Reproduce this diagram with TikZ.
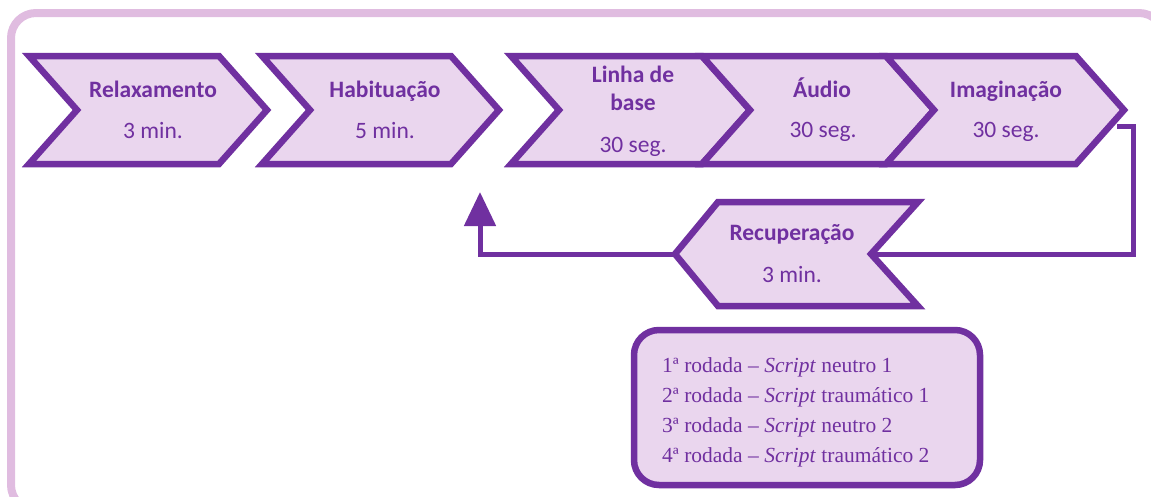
\documentclass[tikz,border=0pt]{standalone}
\usepackage{fontspec}
\setmainfont{Liberation Serif}
\newfontfamily\carlito{Carlito}
\usetikzlibrary{arrows.meta}
\definecolor{pborder}{RGB}{112,48,160}
\definecolor{pfill}{RGB}{234,214,238}
\definecolor{pframe}{RGB}{224,188,224}
\begin{document}
\begin{tikzpicture}[x=1pt,y=-1pt,
  chev/.style={draw=pborder, fill=pfill, line width=6.5pt, line join=miter},
  ttl/.style={font=\carlito\bfseries\fontsize{23.5}{26}\selectfont, text=pborder, inner sep=0pt, anchor=base},
  dur/.style={font=\carlito\fontsize{23.5}{26}\selectfont, text=pborder, inner sep=0pt, anchor=base},
  link/.style={draw=pborder, line width=5pt, line join=miter}]
\useasboundingbox (0,0) rectangle (1151,496);
\begin{scope}
\clip (0,0) rectangle (1151,496);
\draw[pframe, line width=8pt, rounded corners=25pt] (11,13) rectangle (1164,510);
\end{scope}

% connectors (drawn first, chevrons on top)
\coordinate (imagout) at (1117,126);
\coordinate (recin) at (871,254);
\coordinate (recout) at (675,254);
\coordinate (back) at (480,192);
\draw[link] (imagout) -- (1133,126) |- (recin);
\draw[link, -{Triangle[width=31pt,length=34pt]}] (recout) -| (back);

% top chevrons
\draw[chev] (29,56) -- (219,56) -- (267,110) -- (219,164) -- (29,164) -- (77,110) -- cycle;
\draw[chev] (262,56) -- (451,56) -- (499,110) -- (451,164) -- (262,164) -- (310,110) -- cycle;
\draw[chev] (511,56) -- (702,56) -- (750,110) -- (702,164) -- (511,164) -- (559,110) -- cycle;
\draw[chev] (702,56) -- (886,56) -- (934,110) -- (886,164) -- (702,164) -- (750,110) -- cycle;
\draw[chev] (886,56) -- (1076,56) -- (1124,110) -- (1076,164) -- (886,164) -- (934,110) -- cycle;

% recuperacao chevron (pointing left)
\draw[chev] (718,202) -- (918,202) -- (871,254) -- (918,306) -- (718,306) -- (675,254) -- cycle;

% texts
\node[ttl] (relax) at (153,97) {Relaxamento};
\node[dur] (relaxt) at (153,138) {3 min.};
\node[ttl] (habit) at (385,97) {Habituação};
\node[dur] (habitt) at (385,138) {5 min.};
\node[ttl] (linha1) at (633,82) {Linha de};
\node[ttl] (linha2) at (633,110) {base};
\node[dur] (linhat) at (633,152) {30 seg.};
\node[ttl] (audio) at (822,97) {Áudio};
\node[dur] (audiot) at (823,137) {30 seg.};
\node[ttl] (imag) at (1006,97) {Imaginação};
\node[dur] (imagt) at (1006,137) {30 seg.};
\node[ttl] (recup) at (792,240) {Recuperação};
\node[dur] (recupt) at (792,282) {3 min.};

% script box
\draw[draw=pborder, fill=pfill, line width=6.5pt, rounded corners=25pt] (634,330) rectangle (980,485);
\node[anchor=base west, inner sep=0pt, text=pborder, align=left,
      font=\fontsize{21.5}{29.7}\selectfont] (rounds) at (662,462)
  {1ª rodada – \textit{Script} neutro 1\\
   2ª rodada – \textit{Script} traumático 1\\
   3ª rodada – \textit{Script} neutro 2\\
   4ª rodada – \textit{Script} traumático 2};
\end{tikzpicture}
\end{document}
